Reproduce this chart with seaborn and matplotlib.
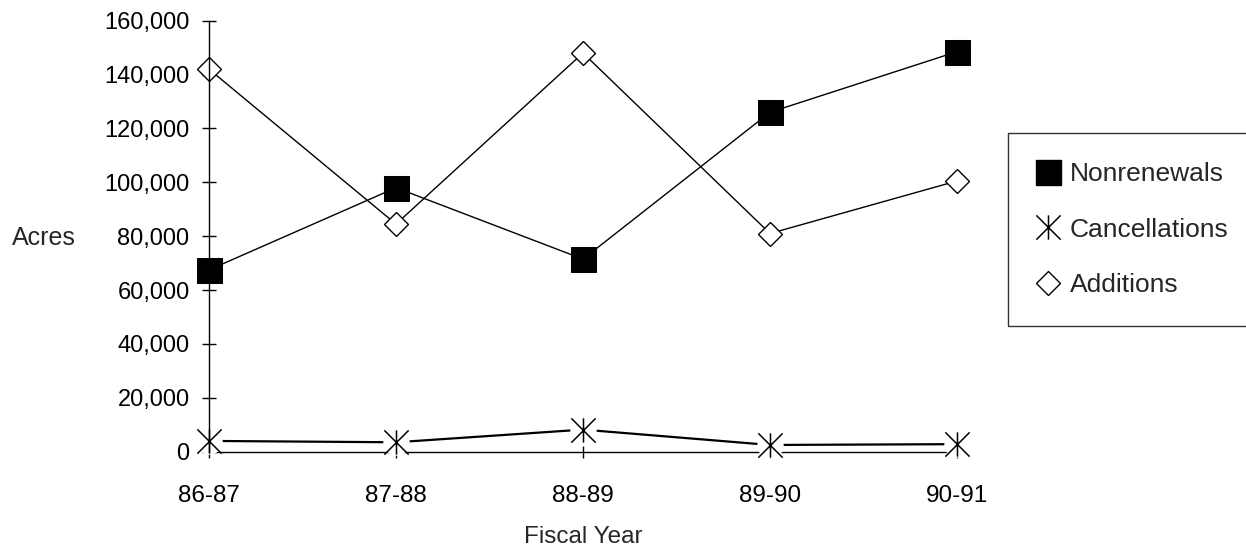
import numpy as np
import pandas as pd
import matplotlib
matplotlib.use("Agg")
import matplotlib.pyplot as plt
from matplotlib.path import Path
from matplotlib.lines import Line2D
from matplotlib.ticker import StrMethodFormatter, MultipleLocator
import seaborn as sns

# Acreage by fiscal year
categories = ["86-87", "87-88", "88-89", "89-90", "90-91"]
nonrenewals = [67500, 98000, 71500, 126000, 148500]
cancellations = [4000, 3500, 8200, 2500, 2800]
additions = [142000, 84500, 148000, 81000, 100500]

sns.set_style("ticks")
plt.rcParams["font.family"] = ["Liberation Sans", "DejaVu Sans"]

df = pd.DataFrame({
    "year": categories,
    "Nonrenewals": nonrenewals,
    "Cancellations": cancellations,
    "Additions": additions,
})

# six-armed asterisk: two diagonals plus a vertical stroke
asterisk = Path(
    [(-0.5, -0.5), (0.5, 0.5), (-0.5, 0.5), (0.5, -0.5), (0, -0.5), (0, 0.5)],
    [Path.MOVETO, Path.LINETO, Path.MOVETO, Path.LINETO, Path.MOVETO, Path.LINETO],
)

fig = plt.figure(figsize=(12.46, 5.5), dpi=100)
ax = fig.add_axes([209 / 1246, 1 - 451.7 / 550, 748 / 1246, 431 / 550])

# Nonrenewals: filled squares
sns.lineplot(data=df, x="year", y="Nonrenewals", ax=ax, color="black", lw=1.0,
             marker="s", markersize=18, markerfacecolor="black",
             markeredgecolor="black", clip_on=False, zorder=4, sort=False)

# Additions: open diamonds
sns.lineplot(data=df, x="year", y="Additions", ax=ax, color="black", lw=1.0,
             marker="D", markersize=12.5, markerfacecolor="white",
             markeredgecolor="black", markeredgewidth=1.0, clip_on=False,
             zorder=4, sort=False)

# Cancellations: line, white halo, then asterisk markers
sns.lineplot(data=df, x="year", y="Cancellations", ax=ax, color="black",
             lw=1.6, clip_on=False, zorder=2, sort=False)
sns.lineplot(data=df, x="year", y="Cancellations", ax=ax, color="white",
             linestyle="", marker="o", markersize=19, markeredgewidth=0,
             clip_on=False, zorder=3, sort=False)
sns.lineplot(data=df, x="year", y="Cancellations", ax=ax, color="black",
             linestyle="", marker=asterisk, markersize=17.5,
             markerfacecolor="none", markeredgecolor="black",
             markeredgewidth=1.1, clip_on=False, zorder=4, sort=False)

ax.set_xlim(0, len(categories) - 1)
ax.set_ylim(0, 160000)
ax.yaxis.set_major_locator(MultipleLocator(20000))
ax.yaxis.set_major_formatter(StrMethodFormatter("{x:,.0f}"))

sns.despine(ax=ax, top=True, right=True)
for side in ("left", "bottom"):
    ax.spines[side].set_linewidth(1.0)
    ax.spines[side].set_color("black")
ax.spines["left"].set_zorder(5)

ax.tick_params(axis="y", direction="inout", length=10, width=1.0,
               pad=9, labelsize=17, colors="black")
ax.tick_params(axis="x", direction="inout", length=8, width=1.0,
               pad=20, labelsize=17.5, colors="black")

ax.set_ylabel("Acres", rotation=0, fontsize=18, ha="left", va="center")
ax.yaxis.set_label_coords(-0.263, 0.495)
ax.set_xlabel("Fiscal Year", fontsize=17.5)
ax.xaxis.set_label_coords(0.5, -0.172)

handles = [
    Line2D([], [], linestyle="", marker="s", markersize=18, color="black"),
    Line2D([], [], linestyle="", marker=asterisk, markersize=17.5,
           markerfacecolor="none", markeredgecolor="black", markeredgewidth=1.1),
    Line2D([], [], linestyle="", marker="D", markersize=12.5,
           markerfacecolor="white", markeredgecolor="black", markeredgewidth=1.0),
]
leg = fig.legend(handles, ["Nonrenewals", "Cancellations", "Additions"],
                 loc="upper left", bbox_to_anchor=(1008 / 1246, 1 - 133 / 550),
                 fontsize=19, frameon=True, fancybox=False, shadow=False,
                 borderpad=1.1, labelspacing=1.2, handlelength=0.8,
                 handletextpad=0.45, borderaxespad=0)
leg.get_frame().set_edgecolor("black")
leg.get_frame().set_linewidth(1.0)

fig.savefig("out.png", dpi=100)
